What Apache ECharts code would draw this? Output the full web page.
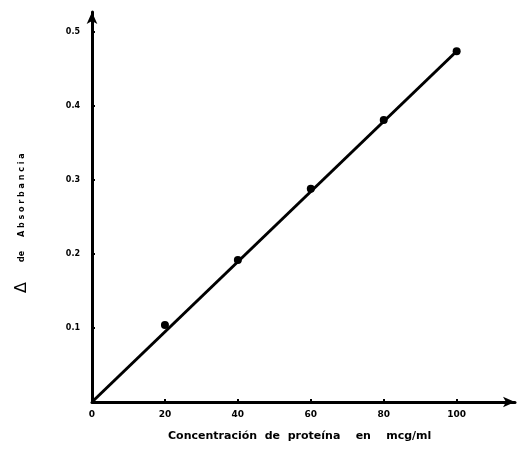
<!DOCTYPE html>
<html><head><meta charset="utf-8">
<script src="https://cdn.jsdelivr.net/npm/echarts@6/dist/echarts.min.js"></script>
<style>html,body{margin:0;padding:0;background:#fff}#c{width:518px;height:469px}</style>
</head><body><div id="c"></div>
<script>
const concentrations = [0, 20, 40, 60, 80, 100];
const absorbance = [0, 0.104, 0.192, 0.288, 0.381, 0.474];
const fitX = [0, 100];
const fitY = [0, 0.474];
const xTicks = [0, 20, 40, 60, 80, 100];
const yTicks = [0.1, 0.2, 0.3, 0.4, 0.5];

const chart = echarts.init(document.getElementById('c'));
const fontF = 'DejaVu Sans';
chart.setOption({
  animation: false,
  backgroundColor: '#fff',
  grid: {left: 92, top: 12, width: 423, height: 390},
  xAxis: {
    type: 'value', min: 0, max: 116, interval: 20,
    axisLine: {show: true, lineStyle: {color: '#000', width: 3}, symbol: ['none', 'arrow'], symbolSize: [8, 12], onZero: false},
    axisTick: {show: true, length: 3, inside: true, lineStyle: {color: '#000', width: 2}},
    splitLine: {show: false},
    axisLabel: {color: '#000', fontFamily: fontF, fontWeight: 'bold', fontSize: 9, margin: 8, showMaxLabel: false,
      formatter: v => xTicks.includes(v) ? String(v) : ''}
  },
  yAxis: {
    type: 'value', min: 0, max: 0.527, interval: 0.1,
    axisLine: {show: true, lineStyle: {color: '#000', width: 3}, symbol: ['none', 'arrow'], symbolSize: [8, 12], onZero: false},
    axisTick: {show: true, length: 3, inside: true, lineStyle: {color: '#000', width: 2}},
    splitLine: {show: false},
    axisLabel: {color: '#000', fontFamily: fontF, fontWeight: 'bold', fontSize: 8, margin: 12, showMaxLabel: false,
      formatter: v => { const t = yTicks.find(y => Math.abs(y - v) < 1e-6); return t ? t.toFixed(1) : ''; }}
  },
  series: [
    {type: 'line', data: fitX.map((x, i) => [x, fitY[i]]), symbol: 'none', lineStyle: {color: '#000', width: 3}, z: 2},
    {type: 'scatter', data: concentrations.slice(1).map((x, i) => [x, absorbance[i + 1]]), symbolSize: 8, itemStyle: {color: '#000', opacity: 1}, z: 3}
  ],
  graphic: [
    {type: 'text', left: 168, top: 431, style: {text: 'Concentración  de  proteína    en    mcg/ml', font: 'bold 11px "DejaVu Sans"', fill: '#000'}},
    {type: 'text', x: 14, y: 293, rotation: Math.PI / 2, style: {
      text: '{d|Δ}      {s|de     A b s o r b a n c i a}', fill: '#000',
      rich: {d: {font: '16px "DejaVu Sans"', fill: '#000'}, s: {font: 'bold 8px "DejaVu Sans"', fill: '#000'}}
    }}
  ]
});
</script></body></html>
